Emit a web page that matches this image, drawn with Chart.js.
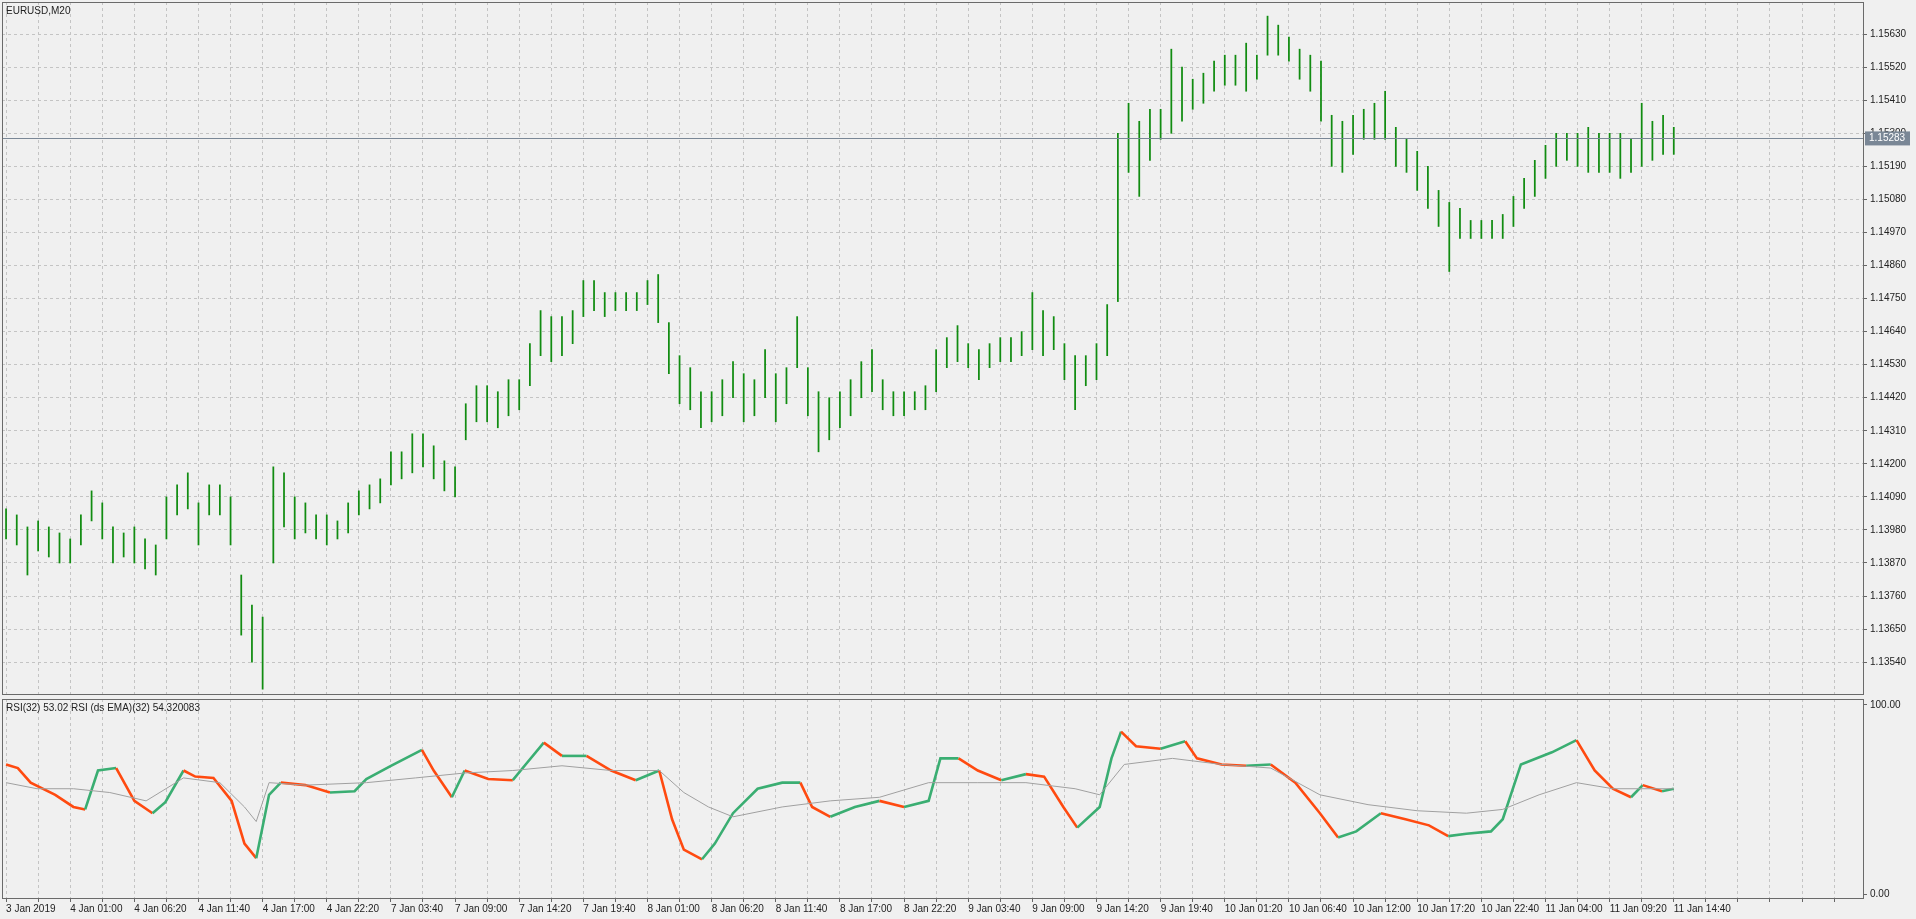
<!DOCTYPE html>
<html><head><meta charset="utf-8">
<script src="https://cdn.jsdelivr.net/npm/chart.js@4.4.1/dist/chart.umd.min.js"></script>
<style>
html,body{margin:0;padding:0;background:#f0f0f0;overflow:hidden;width:1916px;height:919px}
canvas{position:absolute;left:0}
#c1{top:-7px}#c2{top:690px}
</style></head><body>
<canvas id="c1" width="1916" height="710"></canvas>
<canvas id="c2" width="1916" height="229"></canvas>
<script>
const symbolTitle = "EURUSD,M20";
const rsiTitle = "RSI(32) 53.02 RSI (ds EMA)(32) 54.320083";
const lastPrice = 1.15283;
const timeLabels = ["3 Jan 2019","4 Jan 01:00","4 Jan 06:20","4 Jan 11:40","4 Jan 17:00","4 Jan 22:20","7 Jan 03:40","7 Jan 09:00","7 Jan 14:20","7 Jan 19:40","8 Jan 01:00","8 Jan 06:20","8 Jan 11:40","8 Jan 17:00","8 Jan 22:20","9 Jan 03:40","9 Jan 09:00","9 Jan 14:20","9 Jan 19:40","10 Jan 01:20","10 Jan 06:40","10 Jan 12:00","10 Jan 17:20","10 Jan 22:40","11 Jan 04:00","11 Jan 09:20","11 Jan 14:40"];
const priceTicks = [1.1354,1.1365,1.1376,1.1387,1.1398,1.1409,1.1420,1.1431,1.1442,1.1453,1.1464,1.1475,1.1486,1.1497,1.1508,1.1519,1.1530,1.1541,1.1552,1.1563];
const highs = [1.1405,1.1403,1.1399,1.1401,1.1399,1.1397,1.1395,1.1403,1.1411,1.1407,1.1399,1.1397,1.1399,1.1395,1.1393,1.1409,1.1413,1.1417,1.1407,1.1413,
1.1413,1.1409,1.1383,1.1373,1.1369,1.1419,1.1417,1.1409,1.1407,1.1403,1.1403,1.1401,1.1407,1.1411,1.1413,1.1415,1.1424,1.1424,1.1430,1.1430,
1.1426,1.1421,1.1419,1.1440,1.1446,1.1446,1.1444,1.1448,1.1448,1.1460,1.1471,1.1469,1.1469,1.1471,1.1481,1.1481,1.1477,1.1477,1.1477,1.1477,
1.1481,1.1483,1.1467,1.1456,1.1452,1.1444,1.1444,1.1448,1.1454,1.1450,1.1448,1.1458,1.1450,1.1452,1.1469,1.1452,1.1444,1.1442,1.1444,1.1448,
1.1454,1.1458,1.1448,1.1444,1.1444,1.1444,1.1446,1.1458,1.1462,1.1466,1.1460,1.1458,1.1460,1.1462,1.1462,1.1464,1.1477,1.1471,1.1469,1.1460,
1.1456,1.1456,1.1460,1.1473,1.1530,1.1540,1.1534,1.1538,1.1538,1.1558,1.1552,1.1548,1.1550,1.1554,1.1556,1.1556,1.1560,1.1556,1.1569,1.1566,
1.1562,1.1558,1.1556,1.1554,1.1536,1.1534,1.1536,1.1538,1.1540,1.1544,1.1532,1.1528,1.1524,1.1519,1.1511,1.1507,1.1505,1.1501,1.1501,1.1501,
1.1503,1.1509,1.1515,1.1521,1.1526,1.1530,1.1530,1.1530,1.1532,1.1530,1.1530,1.1530,1.1528,1.1540,1.1534,1.1536,1.1532];
const lows = [1.1395,1.1393,1.1383,1.1391,1.1389,1.1387,1.1387,1.1393,1.1401,1.1395,1.1387,1.1389,1.1387,1.1385,1.1383,1.1395,1.1403,1.1405,1.1393,1.1403,
1.1403,1.1393,1.1363,1.1354,1.1345,1.1387,1.1399,1.1395,1.1397,1.1395,1.1393,1.1395,1.1397,1.1403,1.1405,1.1407,1.1413,1.1415,1.1417,1.1419,
1.1415,1.1411,1.1409,1.1428,1.1434,1.1434,1.1432,1.1436,1.1438,1.1446,1.1456,1.1454,1.1456,1.1460,1.1469,1.1471,1.1469,1.1471,1.1471,1.1471,
1.1473,1.1467,1.1450,1.1440,1.1438,1.1432,1.1434,1.1436,1.1442,1.1434,1.1436,1.1442,1.1434,1.1440,1.1452,1.1436,1.1424,1.1428,1.1432,1.1436,
1.1442,1.1444,1.1438,1.1436,1.1436,1.1438,1.1438,1.1444,1.1452,1.1454,1.1452,1.1448,1.1452,1.1454,1.1454,1.1456,1.1458,1.1456,1.1458,1.1448,
1.1438,1.1446,1.1448,1.1456,1.1474,1.1517,1.1509,1.1521,1.1528,1.1530,1.1534,1.1538,1.1540,1.1544,1.1546,1.1546,1.1544,1.1548,1.1556,1.1556,
1.1554,1.1548,1.1544,1.1534,1.1519,1.1517,1.1523,1.1528,1.1528,1.1528,1.1519,1.1517,1.1511,1.1505,1.1499,1.1484,1.1495,1.1495,1.1495,1.1495,
1.1495,1.1499,1.1505,1.1509,1.1515,1.1519,1.1521,1.1519,1.1517,1.1517,1.1517,1.1515,1.1517,1.1519,1.1521,1.1523,1.1523];
const rsiIdx = [0,1.1,2.3,4.6,6.3,7.4,8.6,10.3,12,13.7,14.9,16.6,17.7,19.4,21.1,22.3,23.4,24.6,25.7,28,30.3,32.6,33.7,36,38.9,40,41.7,42.9,45.1,47.4,48.6,50.3,52,54.3,56.6,58.9,61.1,62.3,63.4,65.1,66.3,68,70.3,72.6,74.3,75.4,77.1,79.4,81.7,84,86.3,87.4,89.1,90.9,93.1,95.4,97.1,98.9,100.2,102.3,103.4,104.3,105.7,108,110.3,111.4,113.7,116,118.3,120.6,122.9,124.6,126.3,128.6,130.9,133.1,134.9,136.6,138.9,140,141.7,144.6,146.9,148.6,150.3,152,153.1,154.9,156];
const rsiVal = [68.6,66.7,59,52.6,46.2,44.9,65.4,66.7,49.4,42.9,48.7,65.4,62.2,61.5,49.4,26.9,19.2,52.6,59,57.7,53.8,54.5,60.9,67.9,76.3,65.4,51.3,65.4,60.9,60.3,68.6,80.1,73.1,73.1,65.4,60.3,65.4,39.7,23.7,18.6,26.9,42.9,55.8,59,59,46.2,41,46.2,49.4,46.2,49.4,71.8,71.8,65.4,60.3,63.5,62.2,46.2,35.3,46.2,71.8,85.9,78.2,76.9,80.8,71.8,68.6,67.9,68.6,59,42.9,30.1,33.3,42.9,39.7,36.5,30.8,32.1,33.3,39.7,68.6,75,81.4,65.4,55.8,51.3,57.7,54.5,55.8];
const sigIdx = [0,2.9,6.3,9.7,13.1,16.6,20,22.3,23.4,24.6,28,33.7,38.3,42.9,47.4,52,56.6,61.1,63.4,65.7,68,72.6,77.1,81.7,86.3,90.9,95.4,100,102.3,104.6,109.1,113.7,118.3,122.9,127.4,132,136.6,140,143.4,146.9,150.3,156];
const sigVal = [59,55.8,55.8,53.8,49.4,61.5,59,46.2,38.5,59,57.7,59,61.5,64.1,65.4,67.9,65.4,65.4,53.8,46.2,41,46.2,49.4,51.3,59,59,59,55.8,52.6,68.6,71.8,68.6,66.7,52.6,47.4,44.2,42.9,44.9,52.6,59,55.8,55.8];

const FONT = {family:"'Liberation Sans', Arial, sans-serif", size:10};
const TXT = '#222';
const GRID = '#c4c4c4';
const XMIN=-0.38, XMAX=173.7, RIGHTW=53;
const xGridTicks = []; for(let t=0;t<=XMAX;t+=3) xGridTicks.push({value:t});

const framePlugin = {
  id:'frame',
  afterDatasetsDraw(chart, args, opts){
    const {ctx, chartArea:a} = chart;
    ctx.save();
    if(opts.priceLine){
      const y = chart.scales.y.getPixelForValue(lastPrice);
      ctx.strokeStyle='#7a8796'; ctx.lineWidth=1;
      ctx.beginPath(); ctx.moveTo(a.left,Math.round(y)+0.5); ctx.lineTo(a.right,Math.round(y)+0.5); ctx.stroke();
      ctx.fillStyle='#7a8796'; ctx.fillRect(a.right+2, y-7, 45, 14);
      ctx.fillStyle='#fff'; ctx.font="10px 'Liberation Sans'"; ctx.textBaseline='middle'; ctx.textAlign='left';
      ctx.fillText(lastPrice.toFixed(5), a.right+6, y);
    }
    ctx.strokeStyle='#6a6a6a'; ctx.lineWidth=1;
    ctx.strokeRect(Math.round(a.left)+0.5, Math.round(a.top)+0.5, Math.round(a.right-a.left), Math.round(a.bottom-a.top));
    ctx.fillStyle=TXT; ctx.font="10px 'Liberation Sans'"; ctx.textBaseline='top'; ctx.textAlign='left';
    ctx.fillText(opts.title, a.left+4, a.top+4);
    ctx.restore();
  }
};

const xBase = {
  type:'linear', min:XMIN, max:XMAX, offset:false,
  afterBuildTicks(s){ s.ticks = xGridTicks.map(t=>({value:t.value})); },
  grid:{color:GRID, tickColor:'#777', drawTicks:false, offset:false},
  border:{display:false, dash:[3,3]},
};

new Chart(document.getElementById('c1'), {
  type:'bar',
  data:{datasets:[{
    data: highs.map((h,i)=>({x:i, y:[lows[i], h]})),
    backgroundColor:'#118c11', borderWidth:0, barThickness:1.1, grouped:false
  }]},
  options:{
    responsive:false, animation:false, events:[],
    layout:{padding:{top:3,left:2,right:0,bottom:3}},
    plugins:{legend:{display:false}, tooltip:{enabled:false}, frame:{title:symbolTitle, priceLine:true}},
    scales:{
      x:Object.assign({}, xBase, {ticks:{display:false}, afterFit(s){s.height=0;}}),
      y:{position:'right', min:1.13434, max:1.15737,
        afterBuildTicks(s){ s.ticks = priceTicks.map(v=>({value:v})); },
        afterFit(s){ s.width=RIGHTW; },
        grid:{color:GRID, drawTicks:true, tickLength:4, tickColor:'#666'},
        border:{display:false, dash:[3,3]},
        ticks:{color:TXT, font:FONT, padding:3, callback:v=>v.toFixed(5)}
      }
    }
  },
  plugins:[framePlugin]
});

new Chart(document.getElementById('c2'), {
  type:'line',
  data:{datasets:[
    {data: sigIdx.map((x,i)=>({x, y:sigVal[i]})), borderColor:'#a0a0a0', borderWidth:1, pointRadius:0, tension:0},
    {data: rsiIdx.map((x,i)=>({x, y:rsiVal[i]})), borderWidth:2.6, pointRadius:0, tension:0,
     segment:{borderColor: c => c.p1.parsed.y >= c.p0.parsed.y ? '#3aae72' : '#ff4a10'}}
  ]},
  options:{
    responsive:false, animation:false, events:[],
    layout:{padding:{top:1,left:2,right:0,bottom:0}},
    plugins:{legend:{display:false}, tooltip:{enabled:false}, frame:{title:rsiTitle, priceLine:false}},
    scales:{
      x:Object.assign({}, xBase, {
        afterFit(s){ s.height=21; },
        grid:{color:GRID, drawTicks:true, tickLength:4, tickColor:'#666'},
        ticks:{color:TXT, font:FONT, autoSkip:false, maxRotation:0, align:'start', padding:1,
          callback:(v)=>{ const k=Math.round(v); return (k%6===0 && timeLabels[k/6]!==undefined) ? timeLabels[k/6] : ''; }}
      }),
      y:{position:'right', min:-1.8, max:103.1,
        afterBuildTicks(s){ s.ticks=[{value:0},{value:100}]; },
        afterFit(s){ s.width=RIGHTW; },
        grid:{display:true, drawOnChartArea:false, tickLength:4, tickColor:'#666'},
        border:{display:false},
        ticks:{color:TXT, font:FONT, padding:3, callback:v=>v.toFixed(2)}
      }
    }
  },
  plugins:[framePlugin]
});
</script></body></html>
